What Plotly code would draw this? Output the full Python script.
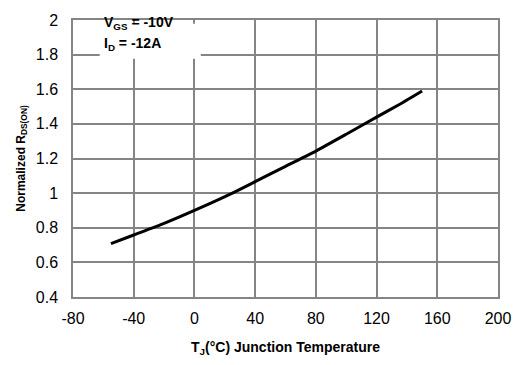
import plotly.graph_objects as go

# Normalized on-resistance vs junction temperature
temp_c = [-55, -40, -20, 0, 25, 40, 60, 80, 100, 120, 135, 150]
r_norm = [0.708, 0.758, 0.825, 0.900, 1.00, 1.066, 1.155, 1.243, 1.340, 1.439, 1.512, 1.590]

x_ticks = [-80, -40, 0, 40, 80, 120, 160, 200]
x_labels = ["-80", "-40", "0", "40", "80", "120", "160", "200"]
y_ticks = [0.4, 0.6, 0.8, 1.0, 1.2, 1.4, 1.6, 1.8, 2.0]
y_labels = ["0.4", "0.6", "0.8", "1", "1.2", "1.4", "1.6", "1.8", "2"]

cond_lines = ["V<sub>GS</sub> = -10V", "I<sub>D</sub> = -12A"]

grid_col = "#858585"
font_fam = "Liberation Sans, Arial, sans-serif"

fig = go.Figure()
fig.add_trace(go.Scatter(
    x=temp_c, y=r_norm, mode="lines",
    line=dict(color="black", width=3, shape="spline", smoothing=0.6),
    showlegend=False, hoverinfo="skip",
))

fig.update_layout(
    width=523, height=365,
    margin=dict(l=73, r=21, t=13, b=66),
    paper_bgcolor="white", plot_bgcolor="white",
    font=dict(family=font_fam, color="black"),
    xaxis=dict(
        range=[-80, 200], tickmode="array", tickvals=x_ticks, ticktext=x_labels,
        showgrid=True, gridcolor=grid_col, gridwidth=1.5,
        zeroline=False, showline=True, linecolor=grid_col, linewidth=1.5, mirror=True,
        ticks="", tickfont=dict(size=16), ticklabelstandoff=6,
        title=dict(text="<b>T<sub>J</sub>(°C) Junction Temperature</b>",
                   font=dict(size=14), standoff=16),
    ),
    yaxis=dict(
        range=[0.4, 2.0], tickmode="array", tickvals=y_ticks, ticktext=y_labels,
        showgrid=True, gridcolor=grid_col, gridwidth=1.5,
        zeroline=False, showline=True, linecolor=grid_col, linewidth=1.5, mirror=True,
        ticks="", tickfont=dict(size=16), ticklabelstandoff=10,
        title=dict(text="<b>Normalized R<sub>DS(ON)</sub></b>",
                   font=dict(size=12), standoff=8),
    ),
    shapes=[dict(
        type="rect", xref="x", yref="y", x0=-62.4, x1=4.2, y0=1.776, y1=1.978,
        fillcolor="white", line=dict(width=0), layer="between",
    )],
)

for txt, yv in zip(cond_lines, [1.985, 1.862]):
    fig.add_annotation(
        x=-61.1, y=yv, xref="x", yref="y", text=f"<b>{txt}</b>",
        showarrow=False, xanchor="left", yanchor="middle",
        font=dict(size=14, family=font_fam, color="black"),
    )

fig.write_html("out.html")
